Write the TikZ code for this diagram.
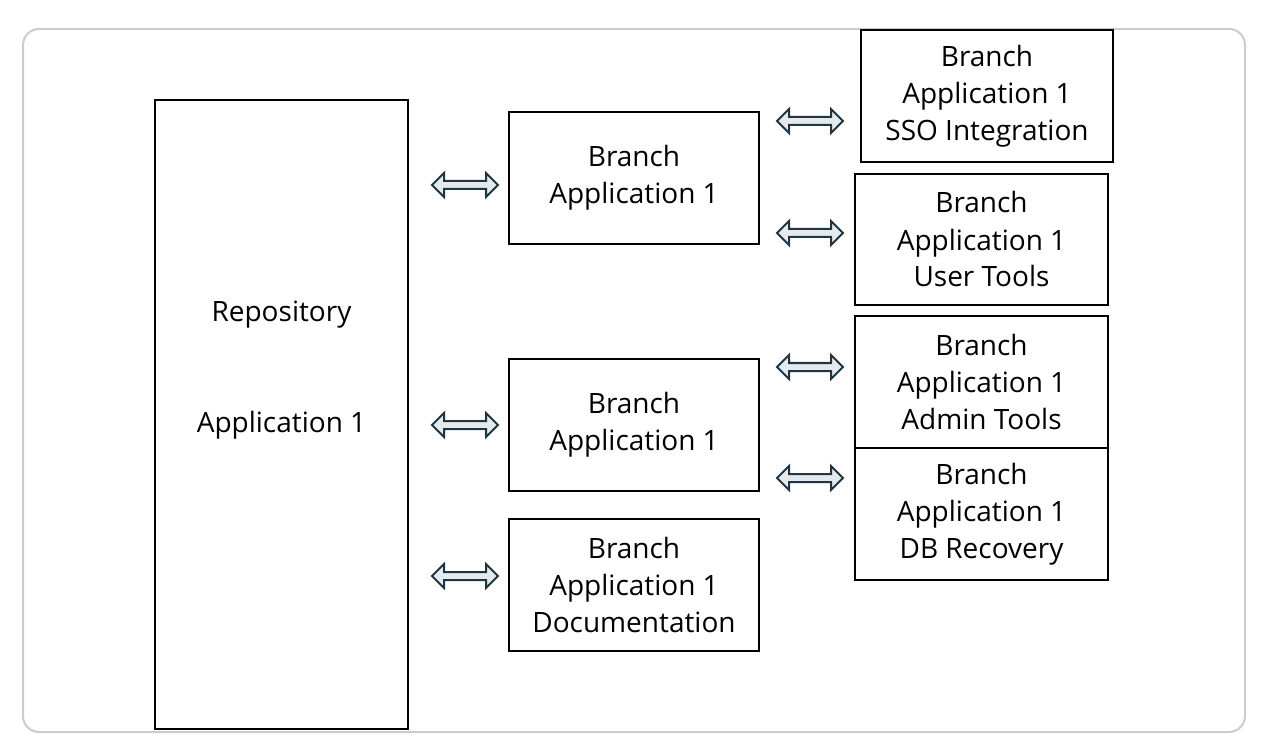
\documentclass[tikz,border=0pt]{standalone}
\usepackage{fontspec}
\setmainfont{Open Sans}
\definecolor{arrowfill}{HTML}{E6E9EC}
\definecolor{arrowline}{HTML}{1F3544}
\definecolor{framegray}{HTML}{CCCCCC}
\tikzset{
  box/.style={draw=black, line width=2pt, rectangle, inner sep=0pt, align=center,
    font={\fontsize{21}{27.75}\selectfont}},
  lbl/.style={inner sep=0pt, align=center, font={\fontsize{21}{27.75}\selectfont}},
  dblarrow/.pic={
    \draw[fill=arrowfill, draw=arrowline, line width=1.5pt, line join=miter]
      (-33,0) -- (-21,-12) -- (-21,-4) -- (21,-4) -- (21,-12) -- (33,0)
      -- (21,12) -- (21,4) -- (-21,4) -- (-21,12) -- cycle;
  }
}
\begin{document}
\begin{tikzpicture}[x=0.75pt, y=-0.75pt]
\useasboundingbox (0,0) rectangle (1264,752);
\draw[framegray, line width=1.5pt, rounded corners=12pt] (23,29) rectangle (1245,732);

% repository
\node[box, minimum width=253*0.75pt, minimum height=629*0.75pt] (repo) at (281.5,414.5) {};
\node[lbl] (repotxt1) at (281.5,315) {Repository};
\node[lbl] (repotxt2) at (281.5,425) {Application 1};

% middle branches
\node[box, minimum width=250*0.75pt, minimum height=132*0.75pt] (b1) at (634,178) {Branch\\Application 1};
\node[box, minimum width=250*0.75pt, minimum height=132*0.75pt] (b2) at (634,425) {Branch\\Application 1};
\node[box, minimum width=250*0.75pt, minimum height=132*0.75pt] (b3) at (634,585) {Branch\\Application 1\\Documentation};

% right branches
\node[box, minimum width=252*0.75pt, minimum height=132*0.75pt] (sso) at (987,96) {Branch\\Application 1\\SSO Integration};
\node[box, minimum width=253*0.75pt, minimum height=131*0.75pt] (user) at (981.5,239.5) {Branch\\Application 1\\User Tools};
\node[box, minimum width=253*0.75pt, minimum height=132*0.75pt] (admin) at (981.5,382) {Branch\\Application 1\\Admin Tools};
\node[box, minimum width=253*0.75pt, minimum height=132*0.75pt] (db) at (981.5,514) {Branch\\Application 1\\DB Recovery};

% arrows
\pic at (465,185) {dblarrow};
\pic at (465,425) {dblarrow};
\pic at (465,576) {dblarrow};
\pic at (810,121) {dblarrow};
\pic at (810,233) {dblarrow};
\pic at (810,367) {dblarrow};
\pic at (810,478) {dblarrow};
\end{tikzpicture}
\end{document}
